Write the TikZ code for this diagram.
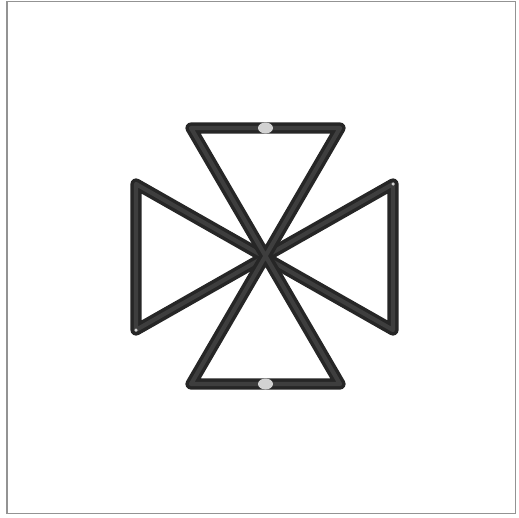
\documentclass[tikz,border=0pt]{standalone}
\usetikzlibrary{calc, shapes.geometric}
\definecolor{cRod}{RGB}{38,38,38}
\definecolor{cShine}{RGB}{62,62,62}
\definecolor{cPin}{RGB}{210,210,210}
\tikzset{
	rod/.style   ={line width=6.4pt, draw=cRod, line join=round, line cap=round,
	               postaction={draw=cShine, line width=2.4pt}},
	pin/.style   ={ellipse, fill=cPin, minimum width=0.3cm, minimum height=0.22cm, inner sep=0pt},
	dot/.style   ={circle, fill=cPin, minimum size=0.07cm, inner sep=0pt},
	frame/.style ={draw=gray!85, line width=0.8pt},
}
\begin{document}
\begin{tikzpicture}[x=0.02cm, y=-0.02cm]
	\useasboundingbox (0,0) rectangle (519,517);
	\draw[frame] (7,1.5) rectangle (515.5,513.5);
	% ---------- corners ----------
	\coordinate (tl) at (191,128);
	\coordinate (tr) at (340,128);
	\coordinate (bl) at (191,384);
	\coordinate (br) at (340,384);
	\coordinate (lt) at (136,184);
	\coordinate (lb) at (136,330);
	\coordinate (rt) at (393,184);
	\coordinate (rb) at (393,330);
	% ---------- bow tie (left/right) ----------
	\draw[rod] (lt) -- (lb) -- (rt) -- (rb) -- cycle;
	% ---------- hourglass (top/bottom) ----------
	\draw[rod] (tl) -- (tr) -- (bl) -- (br) -- cycle;
	% ---------- pins ----------
	\node[pin] (ptop) at ($(tl)!0.5!(tr)$) {};
	\node[pin] (pbot) at ($(bl)!0.5!(br)$) {};
	\node[dot] (dlb) at (lb) {};
	\node[dot] (drt) at (rt) {};
\end{tikzpicture}
\end{document}
